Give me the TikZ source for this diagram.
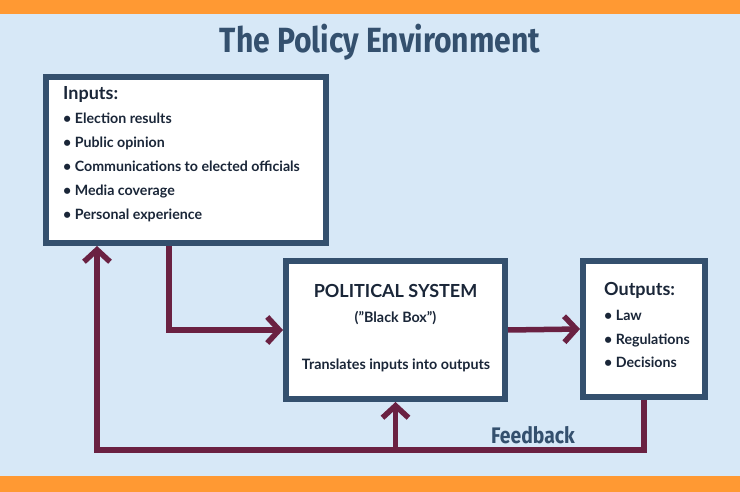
\documentclass[tikz,border=0pt]{standalone}
\usepackage{fontspec}
\setmainfont{Lato}
\newfontfamily\headfont[FakeStretch=0.86]{Fira Sans}
\usetikzlibrary{arrows.meta}
\definecolor{bgblue}{HTML}{D7E8F7}
\definecolor{barorange}{HTML}{FF9933}
\definecolor{boxnavy}{HTML}{34506E}
\definecolor{flowred}{HTML}{6A2142}
\definecolor{inknavy}{HTML}{1A2638}
\tikzset{
  stagebox/.style={draw=boxnavy, line width=6pt, fill=white, inner sep=0pt},
  flow/.style={draw=flowred, line width=5.5pt, line join=miter,
    -{Straight Barb[length=12pt, width=26pt, line join=miter]}},
  item/.style={anchor=base west, inner sep=0pt, text=inknavy, font=\bfseries\fontsize{14.2}{16}\selectfont},
  heading/.style={anchor=base west, inner sep=0pt, text=inknavy, font=\bfseries\fontsize{18}{20}\selectfont}
}
\begin{document}
\begin{tikzpicture}[x=1pt, y=-1pt]
        % Background and bars
        \fill[bgblue] (0,0) rectangle (740,492);
        \fill[barorange] (0,0) rectangle (740,14);
        \fill[barorange] (0,476) rectangle (740,492);
        \useasboundingbox (0,0) rectangle (740,492);

        % Title
        \node[anchor=base, text=boxnavy, font=\headfont\bfseries\fontsize{35}{38}\selectfont] (title) at (380,53) {The Policy Environment};

        % Boxes
        \node[stagebox, minimum width=280pt, minimum height=166pt] (inputs) at (186,160) {};
        \node[stagebox, minimum width=219pt, minimum height=138pt] (polsys) at (395.5,330) {};
        \node[stagebox, minimum width=122pt, minimum height=136pt] (outputs) at (644,329) {};

        % Inputs text
        \node[heading] (inhead) at (63,100) {Inputs:};
        \node[item] (in1) at (63,124) {\textbullet\ Election results};
        \node[item] (in2) at (63,148) {\textbullet\ Public opinion};
        \node[item] (in3) at (63,172) {\textbullet\ Communications to elected officials};
        \node[item] (in4) at (63,196) {\textbullet\ Media coverage};
        \node[item] (in5) at (63,220) {\textbullet\ Personal experience};

        % Political system text
        \node[heading, anchor=base] (pshead) at (395.5,298) {POLITICAL SYSTEM};
        \node[item, anchor=base, font=\bfseries\fontsize{14.3}{16}\selectfont] (psbox) at (395.5,323) {("Black Box")};
        \node[item, anchor=base, font=\bfseries\fontsize{14.3}{16}\selectfont] (pstext) at (396,370) {Translates inputs into outputs};

        % Outputs text
        \node[heading] (outhead) at (604,296) {Outputs:};
        \node[item] (out1) at (604,320) {\textbullet\ Law};
        \node[item] (out2) at (604,344) {\textbullet\ Regulations};
        \node[item] (out3) at (604,367) {\textbullet\ Decisions};

        % Edges
        \coordinate (fbcorner) at (97,450);
        \draw[flow] ([xshift=-17pt]inputs.south) |- (polsys.west);
        \draw[flow] (polsys.east) -- (outputs.west);
        \draw[flow] (outputs.south) |- (fbcorner) -- (fbcorner |- inputs.south);
        \draw[flow] (polsys.south |- fbcorner) -- (polsys.south);

        % Feedback label
        \node[anchor=base west, inner sep=0pt, text=boxnavy, font=\headfont\bfseries\fontsize{22.5}{26}\selectfont] (fblabel) at (491,443) {Feedback};
\end{tikzpicture}
\end{document}
